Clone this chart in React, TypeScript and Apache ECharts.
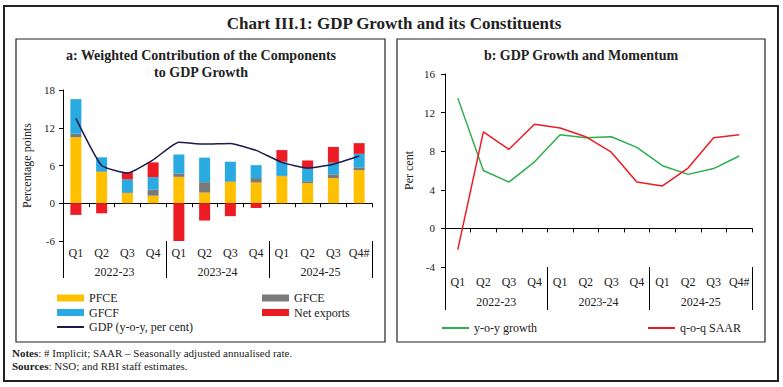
import React, { useEffect, useRef } from "react";
import * as echarts from "echarts";

const quarters = ["Q1", "Q2", "Q3", "Q4", "Q1", "Q2", "Q3", "Q4", "Q1", "Q2", "Q3", "Q4#"];
const years = ["2022-23", "2023-24", "2024-25"];

const pfce = [10.5, 5.0, 1.6, 1.2, 4.2, 1.7, 3.4, 3.3, 4.3, 3.2, 4.0, 5.25];
const gfce = [0.55, 0.1, 0.15, 0.95, 0.5, 1.65, 0.1, 0.7, 0.05, 0.3, 0.6, 0.45];
const gfcf = [5.5, 2.2, 2.05, 2.0, 3.05, 3.9, 3.1, 2.05, 2.25, 2.0, 1.85, 2.15];
const netExports = [-1.85, -1.6, 1.15, 2.35, -6.15, -2.75, -2.05, -0.75, 1.85, 1.3, 2.5, 1.7];
const gdpYoY = [13.5, 6.0, 4.8, 6.9, 9.7, 9.4, 9.5, 8.4, 6.5, 5.6, 6.2, 7.5];
const qoqSaar = [-2.2, 10.0, 8.2, 10.8, 10.4, 9.5, 7.9, 4.8, 4.4, 6.25, 9.4, 9.7];

const FONT = "'Liberation Serif', 'DejaVu Serif', serif";
const C_PFCE = "#FFC000";
const C_GFCE = "#7A7A7A";
const C_GFCF = "#29ABE2";
const C_NX = "#ED1C24";
const C_GDP = "#1B1B4F";
const C_GREEN = "#2DB04B";
const C_RED = "#ED1C24";

function xAxesFor(gridIndex: number, tickLen: number, qMargin: number, yMargin: number) {
  return [
    {
      type: "category",
      gridIndex,
      data: quarters,
      position: "bottom",
      axisLine: { onZero: true, lineStyle: { color: "#000", width: 1 } },
      axisTick: { show: true, length: 4, interval: 0, lineStyle: { color: "#000" } },
      axisLabel: { show: false },
      splitLine: { show: false },
    },
    {
      type: "category",
      gridIndex,
      data: quarters,
      position: "bottom",
      axisLine: { show: false, onZero: false },
      axisTick: { show: false },
      axisLabel: { show: true, interval: 0, margin: qMargin, color: "#222", fontFamily: FONT, fontSize: 12 },
      splitLine: { show: false },
    },
    {
      type: "category",
      gridIndex,
      data: years,
      position: "bottom",
      axisLine: { show: false, onZero: false },
      axisTick: { show: true, interval: 0, length: tickLen, lineStyle: { color: "#000" } },
      axisLabel: { show: true, interval: 0, margin: yMargin, color: "#222", fontFamily: FONT, fontSize: 12 },
      splitLine: { show: false },
    },
  ];
}

function legendItem(name: string, left: number, cy: number, isLine: boolean) {
  return {
    show: true,
    data: [name],
    left,
    top: cy - 7,
    orient: "horizontal",
    icon: "rect",
    itemWidth: 27,
    itemHeight: isLine ? 2 : 7,
    padding: 0,
    selectedMode: false,
    textStyle: { fontFamily: FONT, fontSize: 12, color: "#222", lineHeight: 14 },
  };
}

export default function App() {
  const ref = useRef<HTMLDivElement>(null);

  useEffect(() => {
    if (!ref.current) return;
    const chart = echarts.init(ref.current, null, { renderer: "svg" });

    const option: any = {
      animation: false,
      backgroundColor: "#fff",
      grid: [
        { left: 63, right: 411, top: 90, bottom: 146, containLabel: false },
        { left: 445, right: 31, top: 74, bottom: 120, containLabel: false },
      ],
      xAxis: [...xAxesFor(0, 37, 6, 25), ...xAxesFor(1, 43, 9, 29)],
      yAxis: [
        {
          type: "value",
          gridIndex: 0,
          min: -6,
          max: 18,
          interval: 6,
          axisLine: { show: true, lineStyle: { color: "#000" } },
          axisTick: { show: true, length: 4, lineStyle: { color: "#000" } },
          axisLabel: { color: "#222", fontFamily: FONT, fontSize: 11, margin: 8 },
          splitLine: { show: false },
          name: "Percentage points",
          nameLocation: "middle",
          nameRotate: 90,
          nameGap: 30,
          nameTextStyle: { fontFamily: FONT, fontSize: 12, color: "#222" },
        },
        {
          type: "value",
          gridIndex: 1,
          min: -4,
          max: 16,
          interval: 4,
          axisLine: { show: true, lineStyle: { color: "#000" } },
          axisTick: { show: true, length: 4, lineStyle: { color: "#000" } },
          axisLabel: { color: "#222", fontFamily: FONT, fontSize: 11, margin: 10 },
          splitLine: { show: false },
          name: "Per cent",
          nameLocation: "middle",
          nameRotate: 90,
          nameGap: 30,
          nameTextStyle: { fontFamily: FONT, fontSize: 12, color: "#222" },
        },
      ],
      legend: [
        legendItem("PFCE", 57, 298, false),
        legendItem("GFCE", 262, 298, false),
        legendItem("GFCF", 57, 312.5, false),
        legendItem("Net exports", 262, 312.5, false),
        legendItem("GDP (y-o-y, per cent)", 57, 327, true),
        legendItem("y-o-y growth", 442, 328, true),
        legendItem("q-o-q SAAR", 648, 328, true),
      ],
      series: [
        { name: "PFCE", type: "bar", stack: "a", xAxisIndex: 0, yAxisIndex: 0, data: pfce, barWidth: 11, itemStyle: { color: C_PFCE } },
        { name: "GFCE", type: "bar", stack: "a", xAxisIndex: 0, yAxisIndex: 0, data: gfce, barWidth: 11, itemStyle: { color: C_GFCE } },
        { name: "GFCF", type: "bar", stack: "a", xAxisIndex: 0, yAxisIndex: 0, data: gfcf, barWidth: 11, itemStyle: { color: C_GFCF } },
        { name: "Net exports", type: "bar", stack: "a", xAxisIndex: 0, yAxisIndex: 0, data: netExports, barWidth: 11, itemStyle: { color: C_NX } },
        {
          name: "GDP (y-o-y, per cent)",
          type: "line",
          xAxisIndex: 0,
          yAxisIndex: 0,
          data: gdpYoY,
          smooth: 0.15,
          showSymbol: false,
          symbol: "none",
          lineStyle: { color: C_GDP, width: 1.5 },
          itemStyle: { color: C_GDP },
          z: 5,
        },
        {
          name: "y-o-y growth",
          type: "line",
          xAxisIndex: 3,
          yAxisIndex: 1,
          data: gdpYoY,
          showSymbol: false,
          symbol: "none",
          lineStyle: { color: C_GREEN, width: 1.5 },
          itemStyle: { color: C_GREEN },
        },
        {
          name: "q-o-q SAAR",
          type: "line",
          xAxisIndex: 3,
          yAxisIndex: 1,
          data: qoqSaar,
          showSymbol: false,
          symbol: "none",
          lineStyle: { color: C_RED, width: 1.5 },
          itemStyle: { color: C_RED },
        },
      ],
      graphic: [
        { type: "rect", shape: { x: 4, y: 6, width: 774, height: 375 }, style: { fill: "none", stroke: "#222", lineWidth: 2 }, silent: true },
        { type: "rect", shape: { x: 16, y: 39, width: 369, height: 303 }, style: { fill: "none", stroke: "#222", lineWidth: 1.2 }, silent: true },
        { type: "rect", shape: { x: 397, y: 39, width: 368, height: 303 }, style: { fill: "none", stroke: "#222", lineWidth: 1.2 }, silent: true },
        {
          type: "text",
          x: 394,
          y: 23,
          style: { text: "Chart III.1: GDP Growth and its Constituents", fontFamily: FONT, fontSize: 17, fontWeight: "bold", fill: "#222", align: "center", verticalAlign: "middle" },
        },
        {
          type: "text",
          x: 201,
          y: 55,
          style: { text: "a: Weighted Contribution of the Components", fontFamily: FONT, fontSize: 14, fontWeight: "bold", fill: "#222", align: "center", verticalAlign: "middle" },
        },
        {
          type: "text",
          x: 201,
          y: 72,
          style: { text: "to GDP Growth", fontFamily: FONT, fontSize: 14, fontWeight: "bold", fill: "#222", align: "center", verticalAlign: "middle" },
        },
        {
          type: "text",
          x: 581,
          y: 55,
          style: { text: "b: GDP Growth and Momentum", fontFamily: FONT, fontSize: 14, fontWeight: "bold", fill: "#222", align: "center", verticalAlign: "middle" },
        },
        {
          type: "text",
          x: 12,
          y: 353,
          style: {
            text: "{b|Notes}: # Implicit; SAAR – Seasonally adjusted annualised rate.",
            rich: { b: { fontWeight: "bold", fontFamily: FONT, fontSize: 11, fill: "#222" } },
            fontFamily: FONT,
            fontSize: 11,
            fill: "#222",
            verticalAlign: "middle",
          },
        },
        {
          type: "text",
          x: 12,
          y: 366,
          style: {
            text: "{b|Sources}: NSO; and RBI staff estimates.",
            rich: { b: { fontWeight: "bold", fontFamily: FONT, fontSize: 11, fill: "#222" } },
            fontFamily: FONT,
            fontSize: 11,
            fill: "#222",
            verticalAlign: "middle",
          },
        },
      ],
    };

    chart.setOption(option);
    return () => chart.dispose();
  }, []);

  return (
    <div
      ref={ref}
      style={{ position: "fixed", left: 0, top: 0, width: 783, height: 387, background: "#fff" }}
    />
  );
}
